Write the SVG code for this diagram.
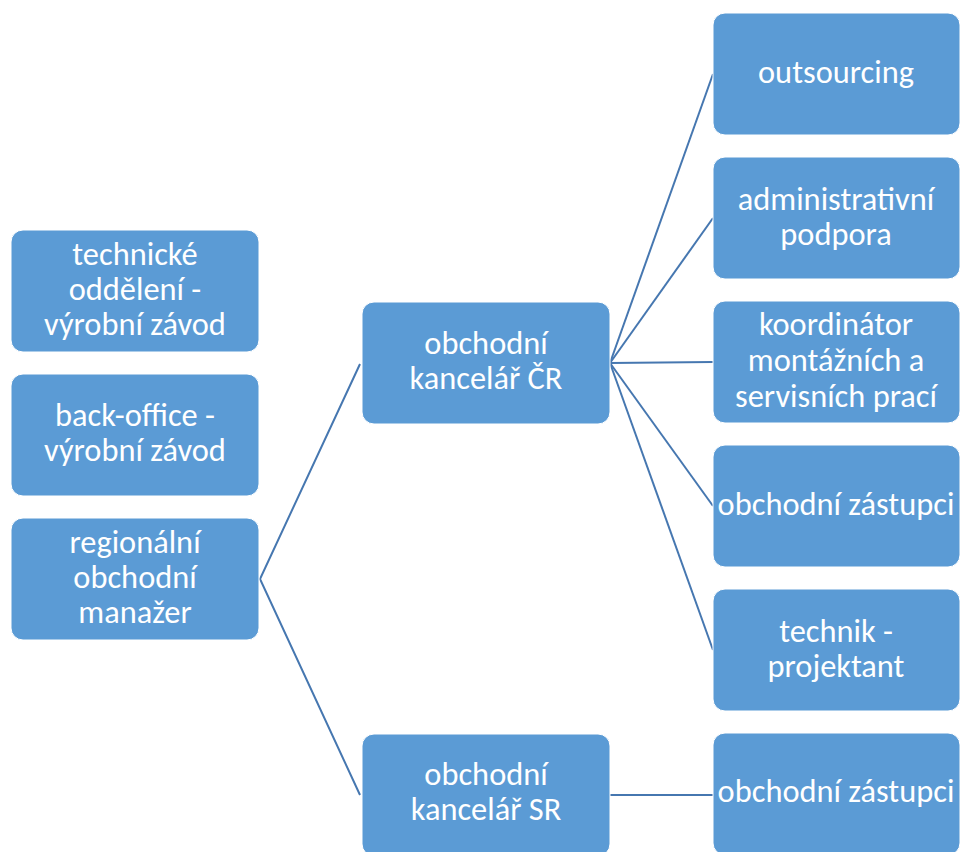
<svg xmlns="http://www.w3.org/2000/svg" width="960" height="852" viewBox="0 0 960 852">
  <style>
    .box { fill: #5b9bd5; stroke: #ffffff; stroke-width: 1; }
    .lbl { fill: #ffffff; font-family: Carlito, Lato, "Liberation Sans", sans-serif; font-size: 32.4px; text-anchor: middle; }
    .link { stroke: #4677b0; stroke-width: 2; fill: none; }
  </style>
  <rect width="960" height="852" fill="#ffffff"/>

  <!-- connectors -->
  <g id="connectors">
    <polyline class="link" points="360,364 260,579 360,795"/>
    <line class="link" x1="610" y1="363" x2="713" y2="74"/>
    <line class="link" x1="610" y1="363" x2="713" y2="218"/>
    <line class="link" x1="610" y1="363" x2="713" y2="362"/>
    <line class="link" x1="610" y1="363" x2="713" y2="506"/>
    <line class="link" x1="610" y1="363" x2="713" y2="650"/>
    <line class="link" x1="610" y1="795" x2="713" y2="795"/>
  </g>

  <!-- left column -->
  <g id="technicke-oddeleni">
    <rect class="box" x="11" y="230" width="248" height="122" rx="12"/>
    <text class="lbl" x="135" y="264.5">technické</text>
    <text class="lbl" x="135" y="299.5">oddělení -</text>
    <text class="lbl" x="135" y="334.5">výrobní závod</text>
  </g>
  <g id="back-office">
    <rect class="box" x="11" y="374" width="248" height="122" rx="12"/>
    <text class="lbl" x="135" y="426">back-office -</text>
    <text class="lbl" x="135" y="461">výrobní závod</text>
  </g>
  <g id="regionalni-manazer">
    <rect class="box" x="11" y="518" width="248" height="122" rx="12"/>
    <text class="lbl" x="135" y="552.5">regionální</text>
    <text class="lbl" x="135" y="587.5">obchodní</text>
    <text class="lbl" x="135" y="622.5">manažer</text>
  </g>

  <!-- middle column -->
  <g id="kancelar-cr">
    <rect class="box" x="362" y="302" width="248" height="122" rx="12"/>
    <text class="lbl" x="486" y="354">obchodní</text>
    <text class="lbl" x="486" y="389">kancelář ČR</text>
  </g>
  <g id="kancelar-sr">
    <rect class="box" x="362" y="734" width="248" height="122" rx="12"/>
    <text class="lbl" x="486" y="785">obchodní</text>
    <text class="lbl" x="486" y="820">kancelář SR</text>
  </g>

  <!-- right column -->
  <g id="outsourcing">
    <rect class="box" x="713" y="13" width="247" height="122" rx="12"/>
    <text class="lbl" x="836" y="83">outsourcing</text>
  </g>
  <g id="administrativni-podpora">
    <rect class="box" x="713" y="157" width="247" height="122" rx="12"/>
    <text class="lbl" x="836" y="210">administrativní</text>
    <text class="lbl" x="836" y="245">podpora</text>
  </g>
  <g id="koordinator">
    <rect class="box" x="713" y="301" width="247" height="122" rx="12"/>
    <text class="lbl" x="836" y="335">koordinátor</text>
    <text class="lbl" x="836" y="371">montážních a</text>
    <text class="lbl" x="836" y="407">servisních prací</text>
  </g>
  <g id="obchodni-zastupci-cr">
    <rect class="box" x="713" y="445" width="247" height="122" rx="12"/>
    <text class="lbl" x="836" y="515">obchodní zástupci</text>
  </g>
  <g id="technik-projektant">
    <rect class="box" x="713" y="589" width="247" height="122" rx="12"/>
    <text class="lbl" x="836" y="642">technik -</text>
    <text class="lbl" x="836" y="677">projektant</text>
  </g>
  <g id="obchodni-zastupci-sr">
    <rect class="box" x="713" y="733" width="247" height="122" rx="12"/>
    <text class="lbl" x="836" y="802">obchodní zástupci</text>
  </g>
</svg>
